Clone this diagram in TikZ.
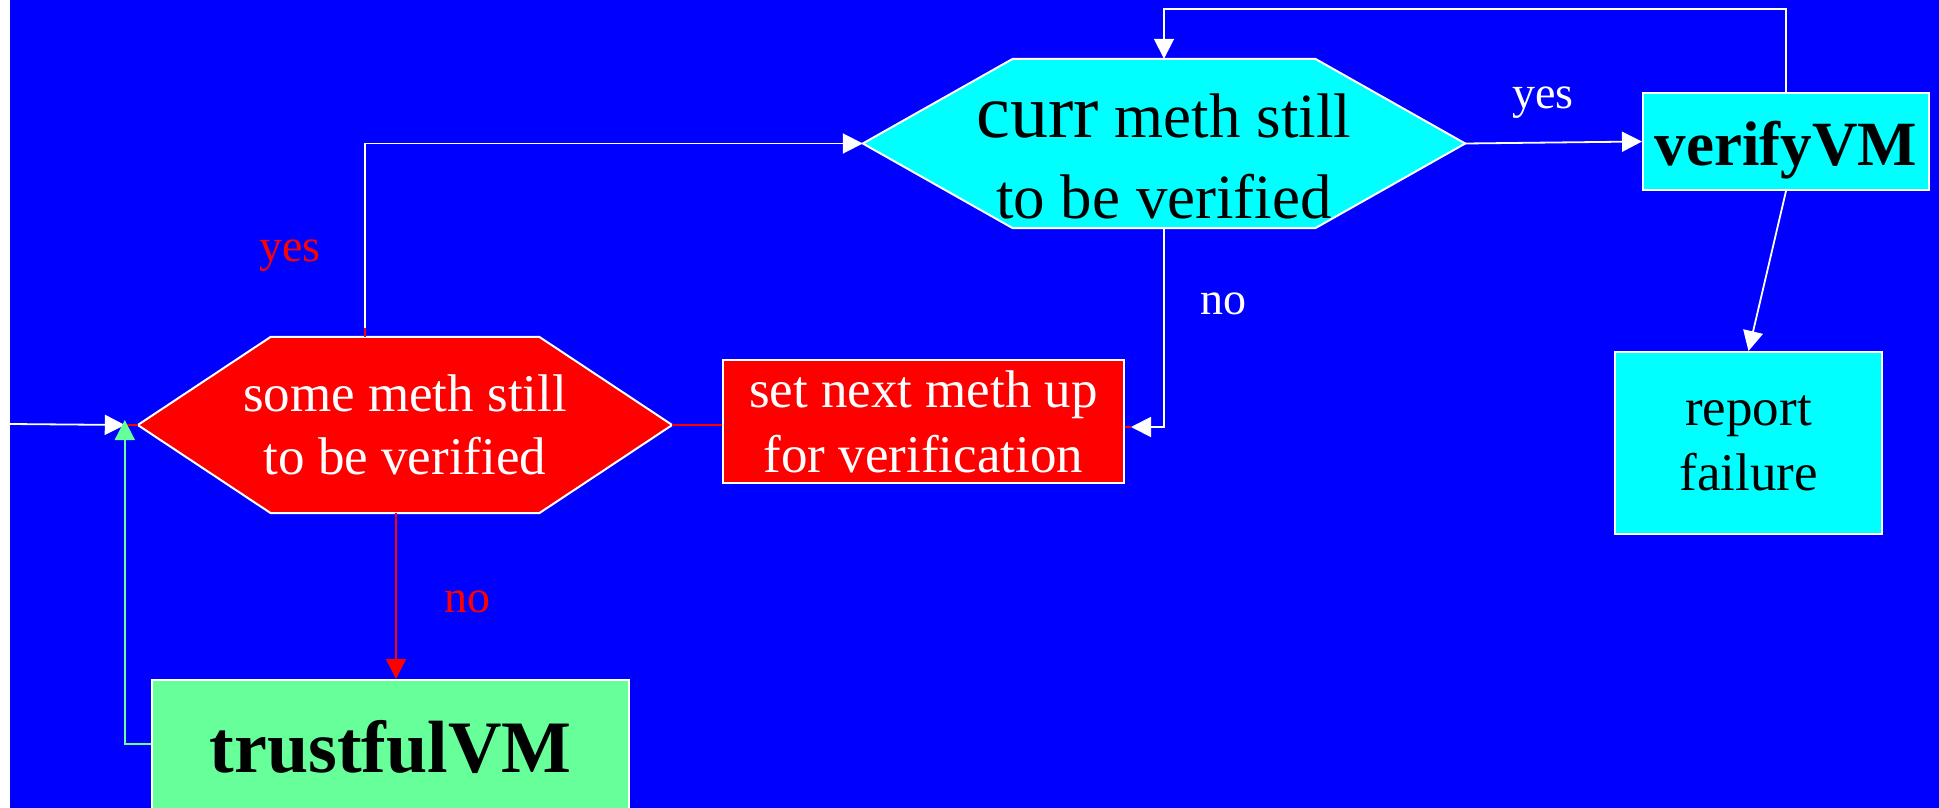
\documentclass[tikz,border=0pt]{standalone}
\usepackage{fontspec}
\setmainfont{Liberation Serif}
\usetikzlibrary{arrows.meta,calc}
\pgfdeclarelayer{backdrop}
\pgfdeclarelayer{shapes}
\pgfsetlayers{backdrop,shapes,main}
\definecolor{slideblue}{RGB}{0,0,255}
\definecolor{boxred}{RGB}{255,0,0}
\definecolor{boxcyan}{RGB}{0,255,255}
\definecolor{boxgreen}{RGB}{102,255,153}
\begin{document}
\begin{tikzpicture}[x=1pt,y=-1pt,
  >={Triangle[length=20pt,width=20pt]},
  box/.style={draw=white,line width=2pt,inner sep=0pt,align=center},
  hexshape/.style={inner sep=0pt,draw=none,fill=none,align=center},
  hexborder/.style={draw=white,line width=2pt,line join=miter},
  wline/.style={draw=white,line width=1.8pt},
  rline/.style={draw=boxred,line width=1.8pt},
  gline/.style={draw=boxgreen,line width=1.8pt},
  lbl/.style={font=\fontsize{46}{50}\selectfont,anchor=base,inner sep=0pt},
]
\useasboundingbox (0,0) rectangle (1939,808);
\clip (0,0) rectangle (1939,808);
\begin{pgfonlayer}{backdrop}
  \fill[white] (0,0) rectangle (1939,808);
  \fill[slideblue] (10,0) rectangle (1939,808);
\end{pgfonlayer}

% decision: some method left?
\node[hexshape,minimum width=534pt,minimum height=176pt,text=white,
      font=\fontsize{53}{63}\selectfont] (hexA) at (405,425)
      {some meth still\\to be verified};
% decision: current method left?
\node[hexshape,minimum width=602pt,minimum height=169pt] (hexB) at (1164,143.5) {};
\node[align=center,inner sep=0pt,font=\fontsize{63}{81}\selectfont] (hexBtxt) at (1164,156)
      {{\fontsize{76}{81}\selectfont curr} meth still\\to be verified};

\begin{pgfonlayer}{shapes}
  \filldraw[hexborder,fill=boxred] (hexA.west) -- ([xshift=133pt]hexA.north west)
    -- ([xshift=-133pt]hexA.north east) -- (hexA.east)
    -- ([xshift=-133pt]hexA.south east) -- ([xshift=133pt]hexA.south west) -- cycle;
  \filldraw[hexborder,fill=boxcyan] (hexB.west) -- ([xshift=150pt]hexB.north west)
    -- ([xshift=-150pt]hexB.north east) -- (hexB.east)
    -- ([xshift=-150pt]hexB.south east) -- ([xshift=150pt]hexB.south west) -- cycle;
\end{pgfonlayer}

% process boxes
\node[box,fill=boxred,text=white,minimum width=401pt,minimum height=123pt,
      font=\fontsize{53}{65}\selectfont] (setnext) at (923.5,421.5)
      {set next meth up\\for verification};
\node[box,fill=boxcyan,minimum width=286pt,minimum height=97pt,
      font=\fontsize{63}{70}\selectfont\bfseries,text height=47pt,text depth=0pt]
      (verify) at (1786,141.5) {verifyVM};
\node[box,fill=boxcyan,minimum width=267pt,minimum height=182pt,
      font=\fontsize{53}{65}\selectfont] (report) at (1748.5,443) {report\\failure};
\node[box,fill=boxgreen,minimum width=477pt,minimum height=150pt,
      font=\fontsize{74}{80}\selectfont\bfseries,text height=51pt,text depth=17pt]
      (trust) at (390.5,755) {trustfulVM};

% branch labels
\node[lbl,text=boxred] (yesA) at (290,261) {yes};
\node[lbl,text=boxred] (noA) at (467,612) {no};
\node[lbl,text=white] (noB) at (1223,314) {no};
\node[lbl,text=white] (yesB) at (1543,109) {yes};

% connectors
\coordinate (entry) at (10,424);
\coordinate (hexAin) at ([xshift=-13pt]hexA.west);
\draw[wline,->] (entry) -- (hexAin);
\draw[rline] (hexAin) -- (hexA.west);
\draw[gline,->] ([yshift=11pt]trust.west) -| ([yshift=5pt]hexAin);

\draw[rline] ([xshift=-40pt]hexA.north) -- ++(0,-9);
\draw[wline,->] ([xshift=-40pt,yshift=9pt]hexA.north) |- (hexB.west);

\coordinate (setin) at ([xshift=6pt,yshift=-5.5pt]setnext.east);
\draw[wline,->] (hexB.south) |- (setin);
\draw[rline] ([yshift=-5.5pt]setnext.east) -- (setin);

\draw[rline] (hexA.east) -- (hexA.east -| setnext.west);

\draw[wline,->] (hexB.east) -- (verify.west);
\draw[wline,->] (verify.north) -- ++(0,-83) -| (hexB.north);
\draw[wline,->] (verify.south) -- (report.north);

\draw[rline,->] ([xshift=-9pt]hexA.south) -- ([xshift=-9pt]hexA.south |- trust.north);
\end{tikzpicture}
\end{document}
